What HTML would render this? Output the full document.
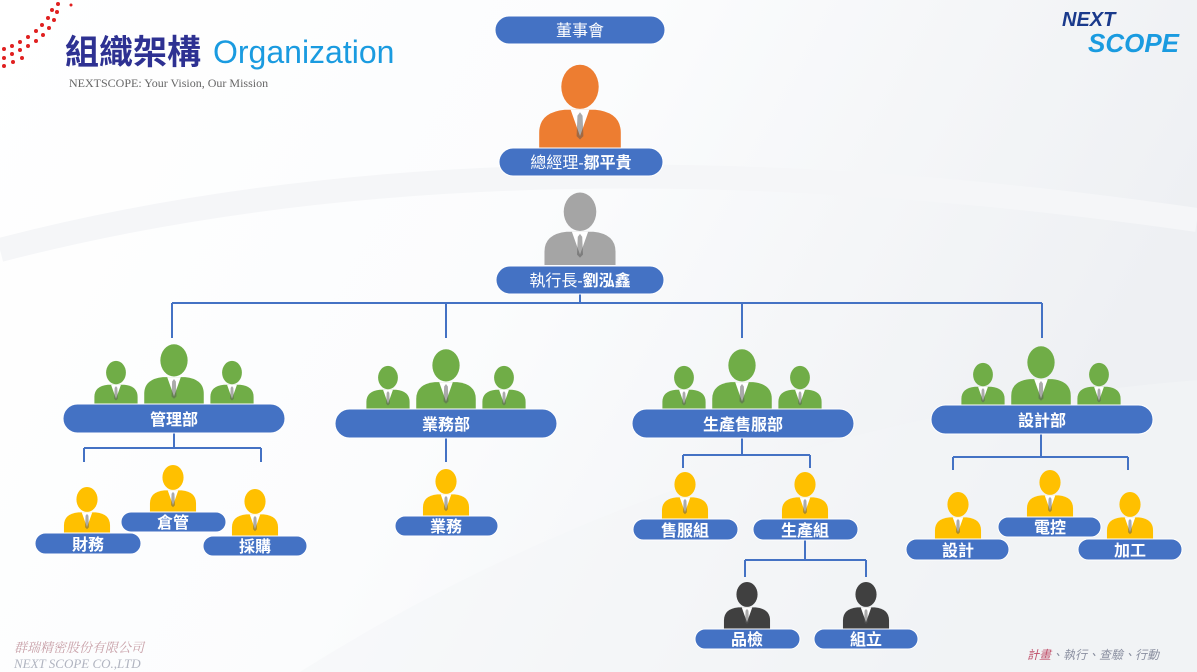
<!DOCTYPE html>
<html><head><meta charset="utf-8"><style>
html,body{margin:0;padding:0;width:1197px;height:672px;overflow:hidden;background:#fff}
svg text{font-family:"Liberation Sans","Noto Sans CJK TC",sans-serif}
</style></head><body>
<svg width="1197" height="672" viewBox="0 0 1197 672" xmlns="http://www.w3.org/2000/svg">
<defs>
<linearGradient id="bg" x1="0" y1="0" x2="1" y2="0.3">
<stop offset="0" stop-color="#fff"/><stop offset="0.5" stop-color="#fbfcfd"/><stop offset="1" stop-color="#eef0f3"/></linearGradient>
<symbol id="p" viewBox="-50 -100 100 100" overflow="visible">
<ellipse cx="0" cy="-72" rx="22" ry="26"/>
<path d="M-48,0 L-48,-18 Q-48,-42 -18,-45 L18,-45 Q48,-42 48,-18 L48,0 Z"/>
<path d="M-11,-45 L0,-14 L11,-45 Z" fill="#fff"/>
<path d="M-3,-38 L0,-42 L3,-38 L4,-14 L0,-10 L-4,-14 Z" fill="#555" fill-opacity="0.5"/>
</symbol>
</defs>
<rect width="1197" height="672" fill="url(#bg)"/>
<path d="M300,672 Q700,420 1197,380 L1197,672 Z" fill="#f4f5f7" opacity="0.5"/>
<path d="M0,250 Q500,120 1197,220" stroke="#f5f6f8" stroke-width="24" fill="none"/>
<g fill="#e02020">
<circle cx="58" cy="4" r="2"/><circle cx="52" cy="10" r="2"/><circle cx="57" cy="12" r="2"/><circle cx="48" cy="18" r="2"/><circle cx="54" cy="20" r="2"/><circle cx="42" cy="25" r="2"/><circle cx="49" cy="28" r="2"/><circle cx="36" cy="31" r="2"/><circle cx="43" cy="35" r="2"/><circle cx="28" cy="37" r="2"/><circle cx="36" cy="41" r="2"/><circle cx="20" cy="42" r="2"/><circle cx="28" cy="46" r="2"/><circle cx="12" cy="46" r="2"/><circle cx="20" cy="50" r="2"/><circle cx="4" cy="49" r="2"/><circle cx="12" cy="54" r="2"/><circle cx="4" cy="58" r="2"/><circle cx="4" cy="66" r="2"/><circle cx="13" cy="62" r="2"/><circle cx="22" cy="58" r="2"/><circle cx="71" cy="5" r="1.5"/>
</g>
<text x="65" y="64" font-size="34" font-weight="bold" fill="#2e3192">組織架構</text>
<text x="213" y="63" font-size="32" fill="#1a9be0">Organization</text>
<text x="69" y="87" font-size="12" fill="#666" style="font-family:'Liberation Serif',serif">NEXTSCOPE: Your Vision, Our Mission</text>
<text x="1062" y="26" font-size="20" font-weight="bold" font-style="italic" fill="#1a3a8c">NEXT</text>
<text x="1088" y="52" font-size="26" font-weight="bold" font-style="italic" fill="#1a9be0">SCOPE</text>
<text x="14" y="652" font-size="13" font-style="italic" fill="#c8a0a8" style="font-family:'Liberation Serif','Noto Serif CJK SC',serif">群瑞精密股份有限公司</text>
<text x="14" y="668" font-size="13" font-style="italic" fill="#b0b4c0" style="font-family:'Liberation Serif',serif">NEXT SCOPE CO.,LTD</text>
<text x="1027" y="659" font-size="12" font-style="italic" fill="#8a8fa0"><tspan fill="#c0506a">計畫</tspan>、執行、查驗、行動</text>

<g stroke="#4472c4" stroke-width="2" fill="none">
<path d="M580,294 V303 M172,303 H1042 M172,303 V338 M446,303 V338 M742,303 V338 M1042,303 V338"/>
<path d="M174,433 V448 M84,448 H261 M84,448 V462 M261,448 V462"/>
<path d="M446,438 V462"/>
<path d="M742,438 V455 M683,455 H810 M683,455 V468 M810,455 V468"/>
<path d="M805,540 V560 M745,560 H866 M745,560 V577 M866,560 V577"/>
<path d="M1041,434 V457 M953,457 H1128 M953,457 V470 M1128,457 V470"/>
</g>

<use href="#p" x="535" y="63" width="90" height="85" fill="#ed7d31"/>
<use href="#p" x="543" y="190" width="74" height="76" fill="#a5a5a5"/>
<g fill="#70ad47">
<use href="#p" x="143" y="343" width="62" height="62"/><use href="#p" x="93" y="360" width="46" height="45"/><use href="#p" x="209" y="360" width="46" height="45"/>
<use href="#p" x="415" y="348" width="62" height="62"/><use href="#p" x="365" y="365" width="46" height="45"/><use href="#p" x="481" y="365" width="46" height="45"/>
<use href="#p" x="711" y="348" width="62" height="62"/><use href="#p" x="661" y="365" width="46" height="45"/><use href="#p" x="777" y="365" width="46" height="45"/>
<use href="#p" x="1010" y="345" width="62" height="62"/><use href="#p" x="960" y="362" width="46" height="45"/><use href="#p" x="1076" y="362" width="46" height="45"/>
</g>
<g fill="#ffc000">
<use href="#p" x="63" y="485" width="48" height="50"/>
<use href="#p" x="149" y="463" width="48" height="50"/>
<use href="#p" x="231" y="487" width="48" height="50"/>
<use href="#p" x="422" y="467" width="48" height="50"/>
<use href="#p" x="661" y="470" width="48" height="50"/>
<use href="#p" x="781" y="470" width="48" height="50"/>
<use href="#p" x="934" y="490" width="48" height="50"/>
<use href="#p" x="1026" y="468" width="48" height="50"/>
<use href="#p" x="1106" y="490" width="48" height="50"/>
</g>
<g fill="#404040">
<use href="#p" x="723" y="580" width="48" height="50"/>
<use href="#p" x="842" y="580" width="48" height="50"/>
</g>

<g fill="#4472c4" stroke="#fff" stroke-width="1">
<rect x="495" y="16" width="170" height="28" rx="14"/>
<rect x="499" y="148" width="164" height="28" rx="14"/>
<rect x="496" y="266" width="168" height="28" rx="14"/>
<rect x="63" y="404" width="222" height="29" rx="14.5"/>
<rect x="335" y="409" width="222" height="29" rx="14.5"/>
<rect x="632" y="409" width="222" height="29" rx="14.5"/>
<rect x="931" y="405" width="222" height="29" rx="14.5"/>
<rect x="35" y="533" width="106" height="21" rx="10.5"/>
<rect x="121" y="512" width="105" height="20" rx="10"/>
<rect x="203" y="536" width="104" height="20" rx="10"/>
<rect x="395" y="516" width="103" height="20" rx="10"/>
<rect x="633" y="519" width="105" height="21" rx="10.5"/>
<rect x="753" y="519" width="105" height="21" rx="10.5"/>
<rect x="695" y="629" width="105" height="20" rx="10"/>
<rect x="814" y="629" width="104" height="20" rx="10"/>
<rect x="906" y="539" width="103" height="21" rx="10.5"/>
<rect x="998" y="517" width="103" height="20" rx="10"/>
<rect x="1078" y="539" width="104" height="21" rx="10.5"/>
</g>
<g fill="#fff" font-size="16" text-anchor="middle">
<text x="580" y="36">董事會</text>
<text x="581" y="168">總經理-<tspan font-weight="bold">鄒平貴</tspan></text>
<text x="580" y="286">執行長-<tspan font-weight="bold">劉泓鑫</tspan></text>
<g font-weight="bold">
<text x="174" y="425">管理部</text>
<text x="446" y="430">業務部</text>
<text x="743" y="430">生產售服部</text>
<text x="1042" y="426">設計部</text>
<text x="88" y="550">財務</text>
<text x="173" y="528">倉管</text>
<text x="255" y="552">採購</text>
<text x="446" y="532">業務</text>
<text x="685" y="536">售服組</text>
<text x="805" y="536">生產組</text>
<text x="747" y="645">品檢</text>
<text x="866" y="645">組立</text>
<text x="958" y="556">設計</text>
<text x="1050" y="533">電控</text>
<text x="1130" y="556">加工</text>
</g>
</g>
</svg>
</body></html>
